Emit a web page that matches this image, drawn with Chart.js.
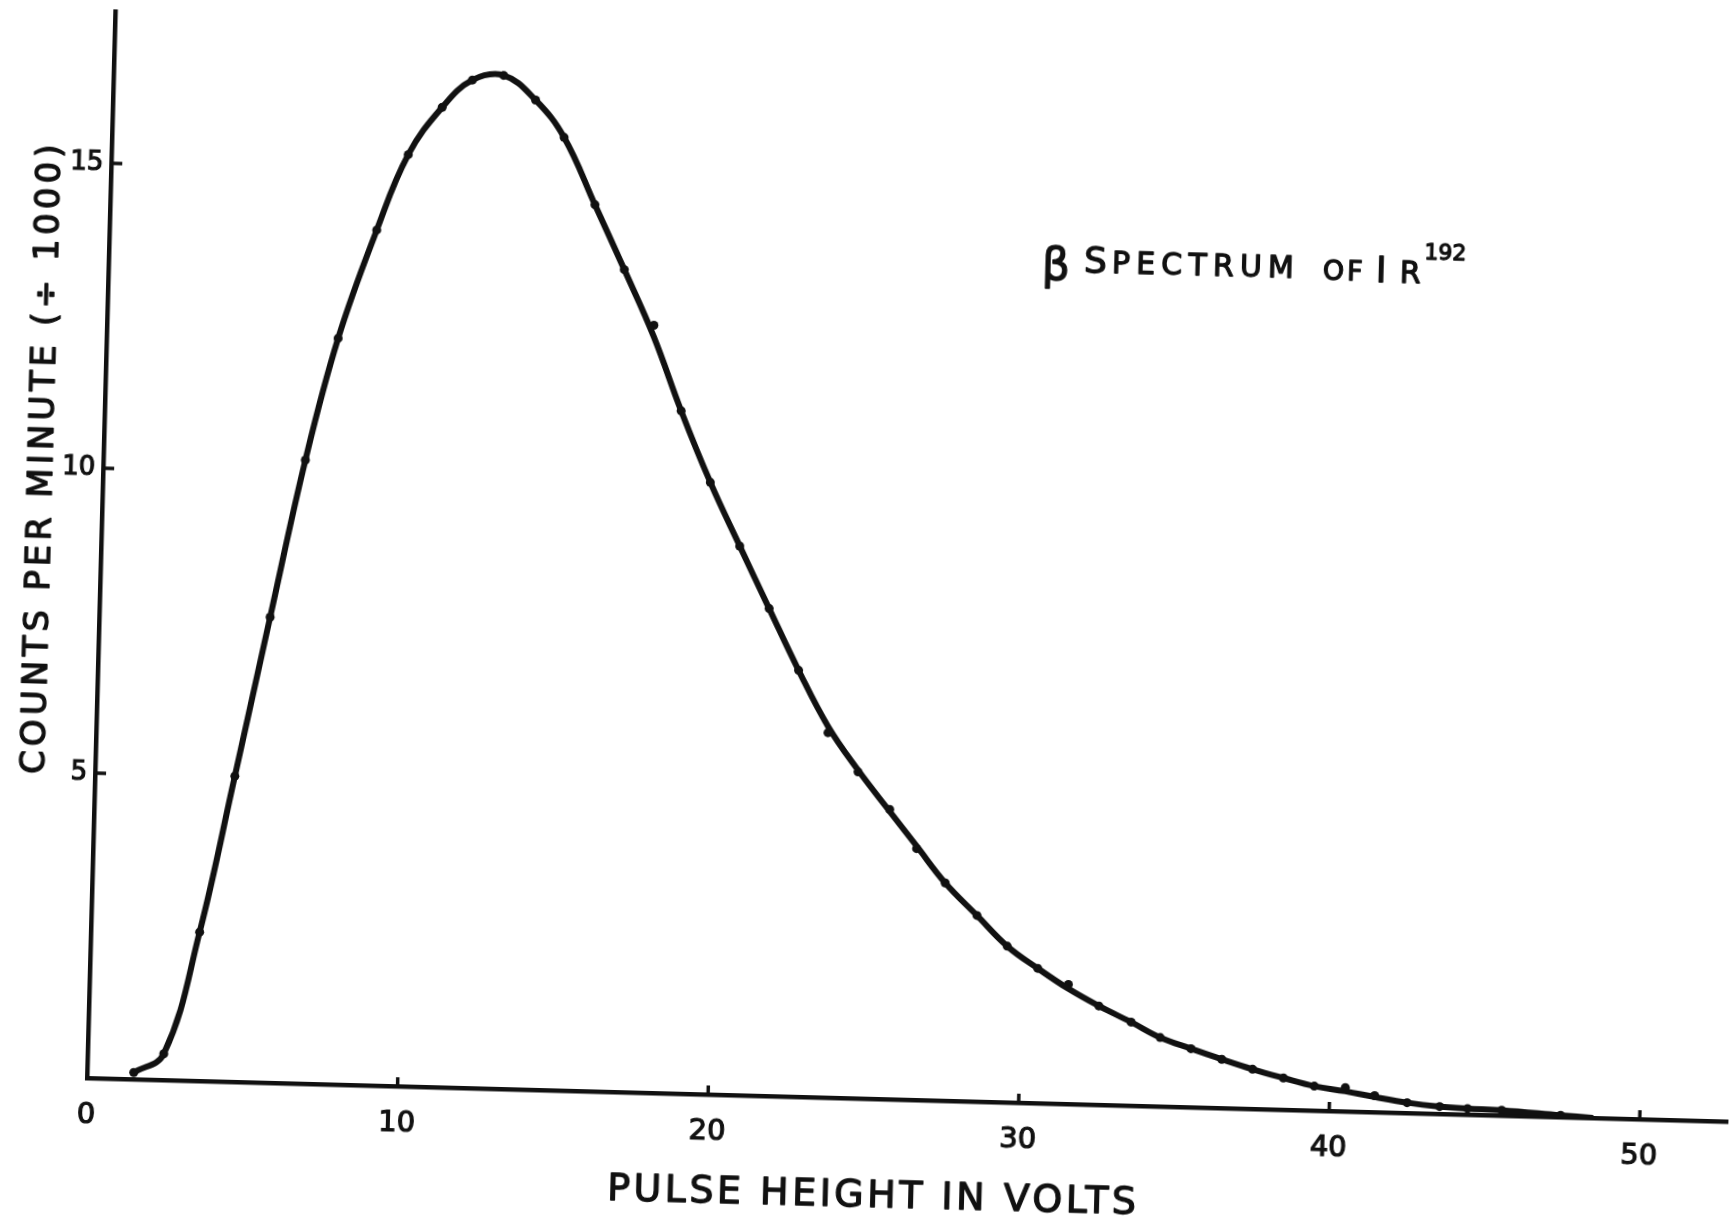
<!DOCTYPE html>
<html>
<head>
<meta charset="utf-8">
<title>β Spectrum of Ir192</title>
<script src="https://cdn.jsdelivr.net/npm/chart.js@4.4.1/dist/chart.umd.min.js"></script>
<style>
  html, body { margin: 0; padding: 0; background: #fff; overflow: hidden; }
  #wrap { position: relative; width: 1733px; height: 1221px; }
  #chart { position: absolute; left: 0; top: 0; }
</style>
</head>
<body>
<div id="wrap"><canvas id="chart" width="1733" height="1221"></canvas></div>
<script>
// pulse height (volts) of the measured points, plus where the curve meets the axis
const pulseHeight = [1.5, 2.45, 3.5, 4.5, 5.5, 6.5, 7.45, 8.6, 9.55, 10.6,
  11.55, 12.55, 13.6, 14.55, 15.6, 16.6, 17.6, 18.55, 19.55, 20.55,
  21.55, 22.55, 23.55, 24.55, 25.6, 26.5, 27.45, 28.5, 29.5, 30.5,
  31.5, 32.5, 33.55, 34.5, 35.5, 36.5, 37.5, 38.5, 39.5, 40.5,
  41.45, 42.5, 43.55, 44.45, 45.55, 47.45, 48.5];
// counts per minute (/1000) at the plotted dots
const countsPerMinute = [0.11, 0.43, 2.44, 5.01, 7.63, 10.22, 12.23, 14.02, 15.27, 16.06,
  16.52, 16.61, 16.22, 15.62, 14.53, 13.48, 12.58, 11.19, 10.03, 9.0,
  7.99, 6.99, 5.98, 5.35, 4.75, 4.12, 3.57, 3.05, 2.56, 2.21,
  1.96, 1.62, 1.37, 1.13, 0.96, 0.80, 0.65, 0.52, 0.40, 0.39,
  0.27, 0.17, 0.12, 0.10, 0.087, 0.03];
// the hand-drawn smooth curve at the same pulse heights
const curveCounts = [0.11, 0.43, 2.44, 5.01, 7.63, 10.22, 12.23, 14.02, 15.27, 16.06,
  16.52, 16.61, 16.22, 15.62, 14.53, 13.48, 12.4, 11.19, 10.03, 9.0,
  7.99, 6.99, 6.08, 5.38, 4.72, 4.16, 3.57, 3.05, 2.56, 2.21,
  1.89, 1.62, 1.37, 1.13, 0.96, 0.80, 0.65, 0.52, 0.40, 0.33,
  0.25, 0.17, 0.12, 0.10, 0.087, 0.03, 0];

const xTickValues = [0, 10, 20, 30, 40, 50];
const yTickValues = [5, 10, 15];
const xTitle = 'PULSE HEIGHT IN VOLTS';
const yTitle = 'COUNTS PER MINUTE (÷ 1000)';

const FONT = '"DejaVu Sans", sans-serif';
const INK = '#111';
const TILT = 1.52; // the sheet was scanned a little crooked

// draw a string stretched (by letter spacing) to a given width, a bit heavier like pen lettering
function spacedText(ctx, str, x, y, width) {
  ctx.letterSpacing = '0px';
  const natural = ctx.measureText(str).width;
  const gap = (width && str.length > 1) ? (width - natural) / (str.length - 1) : 0;
  ctx.letterSpacing = gap + 'px';
  ctx.textAlign = 'left';
  ctx.fillText(str, x, y);
  ctx.strokeText(str, x, y);
  ctx.letterSpacing = '0px';
}

const lettering = {
  id: 'lettering',
  afterDraw(chart) {
    const { ctx, scales: { x, y } } = chart;
    ctx.save();
    ctx.fillStyle = INK;
    ctx.strokeStyle = INK;

    // short tick marks pointing into the plot
    ctx.lineWidth = 3.5;
    ctx.beginPath();
    xTickValues.slice(1).forEach(v => {
      const px = x.getPixelForValue(v);
      ctx.moveTo(px, y.bottom);
      ctx.lineTo(px, y.bottom - 9);
    });
    yTickValues.forEach(v => {
      const py = y.getPixelForValue(v);
      ctx.moveTo(x.left, py);
      ctx.lineTo(x.left + 11, py);
    });
    ctx.stroke();

    ctx.textBaseline = 'alphabetic';
    ctx.lineWidth = 1.3;
    ctx.lineJoin = 'round';

    // x axis title
    ctx.font = '38px ' + FONT;
    const xc = x.getPixelForValue(25.33);
    spacedText(ctx, xTitle, xc - 264, y.bottom + 108, 529);

    // y axis title, reading upwards
    ctx.save();
    ctx.translate(x.left - 51, y.getPixelForValue(10.12));
    ctx.rotate(-Math.PI / 2);
    ctx.font = '34px ' + FONT;
    spacedText(ctx, yTitle, -315, 0, 630);
    ctx.restore();

    // chart title in hand-lettered small caps
    const ax = x.getPixelForValue(30.03);
    const by = y.getPixelForValue(13.63);
    const pieces = [
      ['β', 0, 8, 44, 0],
      ['S', 42, 0, 36, 0],
      ['PECTRUM', 70, 0, 30, 182],
      ['OF', 281, 1, 27, 40],
      ['I', 334, 2, 36, 0],
      ['R', 358, 2, 30, 0],
      ['192', 382, -22, 22, 42]
    ];
    pieces.forEach(([t, dx, dy, size, w]) => {
      ctx.font = size + 'px ' + FONT;
      spacedText(ctx, t, ax + dx, by + dy, w);
    });

    ctx.restore();
  }
};

const tickStyle = { color: INK, textStrokeColor: INK, textStrokeWidth: 1.2 };

const chart = new Chart(document.getElementById('chart'), {
  type: 'line',
  data: {
    datasets: [{
      label: 'curve',
      data: pulseHeight.map((v, i) => ({ x: v, y: curveCounts[i] })),
      borderColor: INK,
      borderWidth: 6,
      pointRadius: 0,
      tension: 0.4,
      fill: false
    }, {
      label: 'measured',
      data: countsPerMinute.map((c, i) => ({ x: pulseHeight[i], y: c })),
      showLine: false,
      backgroundColor: INK,
      borderColor: INK,
      pointRadius: 4.5,
      pointBorderWidth: 0
    }]
  },
  options: {
    responsive: false,
    animation: false,
    layout: { padding: { top: 11, left: 0, right: 0, bottom: 0 } },
    plugins: {
      legend: { display: false },
      tooltip: { enabled: false }
    },
    scales: {
      x: {
        type: 'linear',
        min: 0,
        max: 52.84,
        afterFit: s => { s.height = 143; s.paddingLeft = 0; s.paddingRight = 0; },
        grid: { drawOnChartArea: false, drawTicks: false },
        border: { color: INK, width: 4.5 },
        ticks: Object.assign({
          stepSize: 10,
          includeBounds: false,
          padding: 20,
          maxRotation: 0,
          font: { family: FONT, size: 29 }
        }, tickStyle)
      },
      y: {
        min: 0,
        max: 17.49,
        afterFit: s => { s.width = 87; s.paddingTop = 0; s.paddingBottom = 0; },
        grid: { drawOnChartArea: false, drawTicks: false },
        border: { color: INK, width: 4.5 },
        ticks: Object.assign({
          stepSize: 5,
          includeBounds: false,
          padding: 8,
          font: { family: FONT, size: 26 },
          callback: v => (v === 0 ? '' : v)
        }, tickStyle)
      }
    }
  },
  plugins: [lettering]
});

// tilt the whole sheet around the plot origin, like the scan
const area = chart.chartArea;
const cv = document.getElementById('chart');
cv.style.transformOrigin = area.left + 'px ' + area.bottom + 'px';
cv.style.transform = 'rotate(' + TILT + 'deg)';
</script>
</body>
</html>
